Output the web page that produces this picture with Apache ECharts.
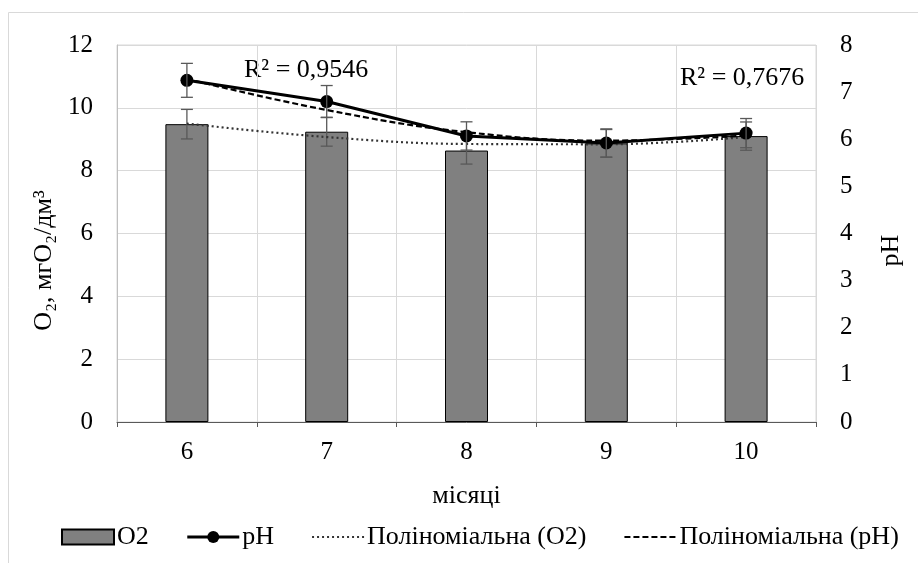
<!DOCTYPE html>
<html>
<head>
<meta charset="utf-8">
<script src="https://cdn.jsdelivr.net/npm/echarts@6/dist/echarts.min.js"></script>
<style>
  html, body { margin: 0; padding: 0; background: #fff; }
  #chart { width: 918px; height: 563px; }
</style>
</head>
<body>
<div id="chart"></div>
<script>
const months = ['6', '7', '8', '9', '10']
const o2 = [9.48, 9.24, 8.64, 8.87, 9.10]
const o2Err = [0.47, 0.46, 0.43, 0.44, 0.45]
const ph = [7.25, 6.80, 6.07, 5.92, 6.13]
const phErr = [0.36, 0.34, 0.30, 0.30, 0.31]
const o2Trend = [9.50, 9.07, 8.85, 8.84, 9.07]
const phTrend = [7.28, 6.62, 6.15, 5.97, 6.08]
const r2Labels = ['R² = 0,9546', 'R² = 0,7676']

const font = 'Liberation Serif'
const fs = 25
const fsBig = 26

function errorBars(color) {
  return function (params, api) {
    const i = api.value(0)
    const hi = api.coord([i, api.value(1)])
    const lo = api.coord([i, api.value(2)])
    const w = 6
    const style = { stroke: color, lineWidth: 1.3 }
    return {
      type: 'group',
      children: [
        { type: 'line', shape: { x1: hi[0], y1: hi[1], x2: lo[0], y2: lo[1] }, style },
        { type: 'line', shape: { x1: hi[0] - w, y1: hi[1], x2: hi[0] + w, y2: hi[1] }, style },
        { type: 'line', shape: { x1: lo[0] - w, y1: lo[1], x2: lo[0] + w, y2: lo[1] }, style },
      ],
    }
  }
}

const noDot = { opacity: 0 }

const chart = echarts.init(document.getElementById('chart'))
chart.setOption({
  animation: false,
  textStyle: { fontFamily: font, color: '#000' },
  grid: {
    left: 117,
    right: 102,
    top: 45,
    bottom: 141,
    show: true,
    borderColor: '#d9d9d9',
    borderWidth: 1,
  },
  legend: {
    left: 56,
    top: 519,
    itemWidth: 52,
    itemHeight: 15,
    itemGap: 37,
    textStyle: { fontFamily: font, fontSize: fsBig, color: '#000', padding: [0, 0, 0, -2] },
    data: [
      { name: 'O2', icon: 'rect' },
      { name: 'pH', lineStyle: { width: 3 } },
      { name: 'Поліноміальна (O2)', itemStyle: noDot },
      { name: 'Поліноміальна (pH)', itemStyle: noDot },
    ],
  },
  graphic: [
    {
      type: 'polyline',
      shape: { points: [[8.5, 563], [8.5, 12.5], [918, 12.5]] },
      style: { stroke: '#d9d9d9', lineWidth: 1, fill: null },
      silent: true,
    },
    {
      type: 'text',
      left: 244,
      top: 57,
      style: { text: r2Labels[0], fontFamily: font, fontSize: fsBig, fill: '#000' },
    },
    {
      type: 'text',
      left: 680,
      top: 65,
      style: { text: r2Labels[1], fontFamily: font, fontSize: fsBig, fill: '#000' },
    },
  ],
  xAxis: {
    type: 'category',
    data: months,
    boundaryGap: true,
    name: 'місяці',
    nameLocation: 'middle',
    nameGap: 61,
    nameTextStyle: { fontFamily: font, fontSize: fsBig, color: '#000' },
    axisLine: { lineStyle: { color: '#595959', width: 1 } },
    axisTick: { show: true, length: 5, lineStyle: { color: '#595959' } },
    axisLabel: { fontFamily: font, fontSize: fs, color: '#000', margin: 18 },
    splitLine: { show: true, lineStyle: { color: '#d9d9d9' } },
  },
  yAxis: [
    {
      type: 'value',
      min: 0,
      max: 12,
      interval: 2,
      name: 'O₂, мгO₂/дм³',
      nameLocation: 'middle',
      nameGap: 57,
      nameRotate: 90,
      nameTextStyle: { fontFamily: font, fontSize: fsBig, color: '#000', padding: [0, 54, 0, 0] },
      axisLine: { show: true, lineStyle: { color: '#bfbfbf' } },
      axisTick: { show: false },
      axisLabel: { fontFamily: font, fontSize: fs, color: '#000', margin: 24 },
      splitLine: { show: true, lineStyle: { color: '#d9d9d9' } },
    },
    {
      type: 'value',
      min: 0,
      max: 8,
      interval: 1,
      name: 'pH',
      nameLocation: 'middle',
      nameGap: 62,
      nameRotate: 90,
      nameTextStyle: { fontFamily: font, fontSize: fsBig, color: '#000', padding: [0, 34, 0, 0] },
      axisLine: { show: false },
      axisTick: { show: false },
      axisLabel: { fontFamily: font, fontSize: fs, color: '#000', margin: 24 },
      splitLine: { show: false },
    },
  ],
  series: [
    {
      name: 'O2',
      type: 'bar',
      data: o2,
      barWidth: 43,
      itemStyle: { color: '#808080', borderColor: '#000', borderWidth: 1 },
      z: 2,
    },
    {
      name: 'o2err',
      type: 'custom',
      renderItem: errorBars('#595959'),
      data: months.map((m, i) => [i, o2[i] + o2Err[i], o2[i] - o2Err[i]]),
      z: 3,
    },
    {
      name: 'Поліноміальна (O2)',
      type: 'line',
      data: o2Trend,
      smooth: 0.4,
      symbol: 'none',
      lineStyle: { color: '#333', width: 2.2, type: [2, 3] },
      itemStyle: { color: '#333' },
      z: 4,
    },
    {
      name: 'Поліноміальна (pH)',
      type: 'line',
      yAxisIndex: 1,
      data: phTrend,
      smooth: 0.4,
      symbol: 'none',
      lineStyle: { color: '#000', width: 2.2, type: [6, 3] },
      itemStyle: { color: '#000' },
      z: 5,
    },
    {
      name: 'pH',
      type: 'line',
      yAxisIndex: 1,
      data: ph,
      symbol: 'circle',
      symbolSize: 13,
      lineStyle: { color: '#000', width: 3 },
      itemStyle: { color: '#000' },
      z: 6,
    },
    {
      name: 'pherr',
      type: 'custom',
      yAxisIndex: 1,
      renderItem: errorBars('#595959'),
      data: months.map((m, i) => [i, ph[i] + phErr[i], ph[i] - phErr[i]]),
      z: 7,
    },
  ],
})
</script>
</body>
</html>
